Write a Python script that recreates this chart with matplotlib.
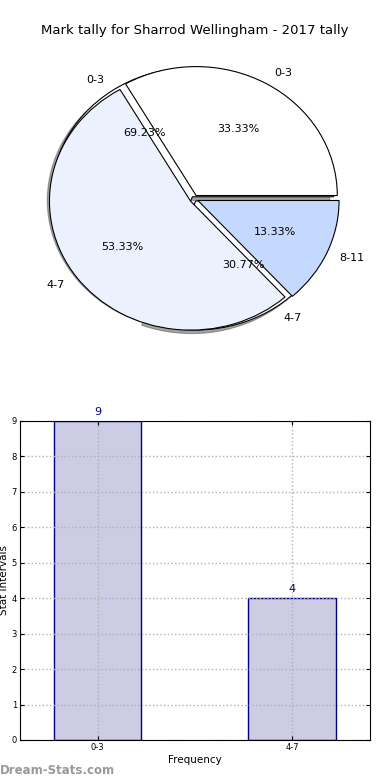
import matplotlib
matplotlib.use("Agg")
import matplotlib.pyplot as plt

# data
title = "Mark tally for Sharrod Wellingham - 2017 tally"
all_labels = ["0-3", "4-7", "8-11"]
all_counts = [5, 8, 2]          # 33.33%, 53.33%, 13.33%
sub_labels = ["0-3", "4-7"]
sub_counts = [9, 4]             # 69.23%, 30.77%
pie_colors = ["#ffffff", "#ebf2fe", "#c5d8fd"]

bar_labels = ["0-3", "4-7"]
bar_values = [9, 4]

fig = plt.figure(figsize=(3.9, 7.8), dpi=100)

# pie part (two pies drawn on top of each other, stretched axes)
ax1 = fig.add_axes([0.0885, 0.559, 0.818, 0.372])
ax1.pie(sub_counts, labels=sub_labels, colors=["#ffffff", "#ffffff"],
        explode=[0.02, 0.02], autopct="%.2f%%", shadow=True,
        wedgeprops=dict(edgecolor="black", linewidth=0.8),
        textprops=dict(fontsize=8))
ax1.pie(all_counts, labels=all_labels, colors=pie_colors,
        explode=[0.03, 0.03, 0.03], autopct="%.2f%%",
        wedgeprops=dict(edgecolor="black", linewidth=0.8),
        textprops=dict(fontsize=8))
ax1.set_aspect("auto")
ax1.set_xlim(-1.13, 1.13)
ax1.set_ylim(-1.125, 1.125)
fig.text(0.5, 0.961, title, ha="center", va="center", fontsize=9.5)

# bar part
ax2 = fig.add_axes([0.051, 0.0513, 0.897, 0.409])
x = list(range(len(bar_labels)))
bars = ax2.bar(x, bar_values, width=0.45, color="#ccccE5", edgecolor="#000080",
               linewidth=1, zorder=1)
for xi, v in zip(x, bar_values):
    ax2.text(xi, v + 0.12, str(v), ha="center", va="bottom", color="#000080", fontsize=8)
ax2.set_xlim(-0.4, 1.4)
ax2.set_ylim(0, 9)
ax2.set_yticks(range(0, 10))
ax2.set_xticks(x)
ax2.set_xticklabels(bar_labels)
ax2.tick_params(labelsize=6, direction="in", length=3, top=True, right=True, pad=2)
ax2.set_axisbelow("line")
ax2.grid(True, linestyle=":", color="#b0b0b0", linewidth=1)
ax2.set_xlabel("Frequency", fontsize=7.5, labelpad=2)
fig.text(0.01, 0.256, "Stat Intervals", rotation=90, ha="center", va="center", fontsize=7.5)
fig.text(0.0, 0.012, "Dream-Stats.com", color="#999999", fontsize=8.5, fontweight="bold",
         ha="left", va="center")

fig.savefig("out.png", dpi=100)
